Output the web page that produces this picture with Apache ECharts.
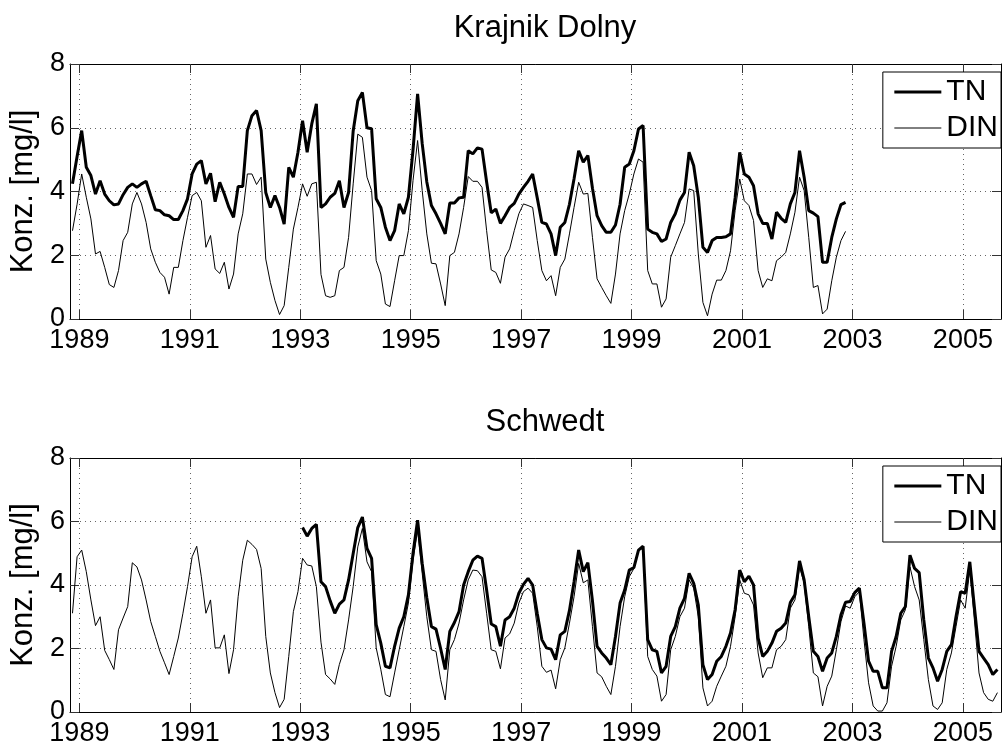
<!DOCTYPE html>
<html>
<head>
<meta charset="utf-8">
<script src="https://cdn.jsdelivr.net/npm/echarts@6/dist/echarts.min.js"></script>
<style>
  html, body { margin: 0; padding: 0; background: #fff; }
  #main { width: 1002px; height: 747px; }
</style>
</head>
<body>
<div id="main"></div>
<script>
// monthly samples, index 0 = Nov 1988 (plotted at mid-month)
var yearTicks = [1989, 1991, 1993, 1995, 1997, 1999, 2001, 2003, 2005];
var concTicks = [0, 2, 4, 6, 8];

// Krajnik Dolny, Nov 1988 .. Nov 2002
var krajnikTN = [
  4.24, 5.1, 5.91, 4.76, 4.5, 3.92, 4.34, 3.92, 3.71, 3.58,
  3.61, 3.9, 4.13, 4.24, 4.13, 4.24, 4.32, 3.87, 3.43, 3.4,
  3.27, 3.24, 3.12, 3.12, 3.4, 3.77, 4.55, 4.86, 4.97, 4.24,
  4.57, 3.68, 4.29, 3.92, 3.5, 3.19, 4.16, 4.16, 5.91, 6.38,
  6.54, 5.91, 3.97, 3.5, 3.87, 3.5, 2.98, 4.76, 4.45, 5.23,
  6.22, 5.23, 6.12, 6.75, 3.5, 3.61, 3.82, 3.94, 4.34, 3.5,
  3.97, 5.9, 6.85, 7.11, 6.0, 5.97, 3.77, 3.5, 2.88, 2.46,
  2.77, 3.61, 3.3, 3.82, 5.3, 7.06, 5.5, 4.3, 3.56, 3.3,
  3.0, 2.67, 3.64, 3.64, 3.8, 3.82, 5.28, 5.18, 5.37, 5.33,
  4.3, 3.33, 3.45, 3.0, 3.24, 3.5, 3.63, 3.92, 4.13, 4.32,
  4.55, 3.8, 3.03, 2.98, 2.67, 1.99, 2.88, 3.03, 3.6, 4.4,
  5.28, 4.92, 5.13, 4.1, 3.24, 2.93, 2.72, 2.72, 2.95, 3.6,
  4.76, 4.86, 5.28, 5.96, 6.07, 2.82, 2.72, 2.67, 2.43, 2.51,
  3.03, 3.3, 3.73, 3.97, 5.23, 4.81, 3.82, 2.25, 2.09, 2.46,
  2.56, 2.56, 2.58, 2.67, 3.8, 5.23, 4.55, 4.45, 4.18, 3.3,
  3.0, 3.0, 2.51, 3.35, 3.16, 3.03, 3.61, 3.97, 5.28, 4.45,
  3.4, 3.32, 3.21, 1.78, 1.78, 2.56, 3.14, 3.59, 3.66
];
var krajnikDIN = [
  2.77, 3.6, 4.55, 3.82, 3.14, 2.04, 2.12, 1.62, 1.08, 0.99,
  1.52, 2.46, 2.72, 3.61, 3.97, 3.61, 3.03, 2.2, 1.78, 1.46,
  1.31, 0.78, 1.62, 1.62, 2.46, 3.19, 3.87, 3.97, 3.71, 2.25,
  2.62, 1.57, 1.43, 1.78, 0.94, 1.41, 2.67, 3.3, 4.55, 4.55,
  4.22, 4.45, 1.88, 1.15, 0.58, 0.14, 0.42, 1.62, 2.82, 3.5,
  4.24, 3.85, 4.24, 4.29, 1.4, 0.73, 0.68, 0.73, 1.52, 1.62,
  2.56, 4.24, 5.8, 5.7, 4.45, 4.03, 1.83, 1.41, 0.47, 0.39,
  1.2, 1.99, 1.99, 2.77, 4.34, 5.6, 4.03, 2.67, 1.75, 1.73,
  1.1, 0.42, 1.99, 2.09, 2.67, 3.5, 4.47, 4.32, 4.32, 4.13,
  2.77, 1.54, 1.46, 1.12, 1.94, 2.2, 2.77, 3.3, 3.61, 3.56,
  3.5, 2.46, 1.52, 1.2, 1.36, 0.73, 1.62, 1.88, 2.67, 3.5,
  4.29, 3.92, 3.94, 2.56, 1.26, 0.99, 0.73, 0.49, 1.41, 2.67,
  3.4, 3.92, 4.55, 5.02, 4.92, 1.52, 1.1, 1.1, 0.37, 0.63,
  1.94, 2.3, 2.67, 3.03, 4.08, 4.03, 2.04, 0.52, 0.1, 0.78,
  1.22, 1.22, 1.52, 2.14, 3.4, 4.39, 3.71, 3.56, 3.09, 1.52,
  0.99, 1.26, 1.2, 1.83, 1.94, 2.09, 2.67, 3.35, 4.45, 4.03,
  2.56, 0.99, 1.05, 0.16, 0.31, 1.2, 1.94, 2.46, 2.75
];

// Schwedt: DIN from Nov 1988, TN from Jan 1993 (index 50), both to Jul 2005
var schwedtTNStart = 50;
var schwedtTN = [
  5.81, 5.54, 5.78, 5.91, 4.1, 3.95, 3.5, 3.11, 3.4, 3.53,
  4.16, 4.99, 5.81, 6.14, 5.15, 4.84, 2.75, 2.17, 1.44, 1.39,
  2.07, 2.64, 3.0, 3.69, 4.99, 6.04, 4.68, 3.6, 2.69, 2.61,
  2.0, 1.34, 2.54, 2.82, 3.16, 4.0, 4.42, 4.78, 4.91, 4.84,
  3.84, 2.77, 2.69, 2.07, 2.9, 3.0, 3.27, 3.74, 4.02, 4.21,
  4.0, 3.1, 2.28, 2.02, 1.98, 1.65, 2.43, 2.54, 3.2, 4.1,
  5.1, 4.42, 4.7, 3.5, 2.07, 1.86, 1.7, 1.49, 2.38, 3.43,
  3.84, 4.47, 4.55, 5.1, 5.22, 2.28, 1.96, 1.91, 1.23, 1.44,
  2.38, 2.69, 3.27, 3.58, 4.37, 4.05, 3.37, 1.49, 1.02, 1.18,
  1.6, 1.75, 2.07, 2.49, 3.22, 4.47, 4.1, 4.28, 4.0, 2.33,
  1.75, 1.91, 2.17, 2.54, 2.64, 2.8, 3.45, 3.69, 4.76, 4.16,
  3.0, 1.91, 1.75, 1.28, 1.7, 1.86, 2.38, 3.06, 3.46, 3.48,
  3.76, 3.9, 2.8, 1.6, 1.28, 1.28, 0.76, 0.76, 1.91, 2.38,
  3.11, 3.32, 4.94, 4.52, 4.39, 2.9, 1.7, 1.39, 0.97, 1.34,
  1.91, 2.12, 3.0, 3.79, 3.74, 4.73, 3.3, 1.91, 1.7, 1.49,
  1.18, 1.34
];
var schwedtDIN = [
  3.11, 4.89, 5.1, 4.42, 3.53, 2.72, 3.0, 1.94, 1.65, 1.34,
  2.59, 2.96, 3.32, 4.7, 4.57, 4.16, 3.53, 2.85, 2.38, 1.91,
  1.55, 1.18, 1.75, 2.33, 3.11, 3.95, 4.89, 5.22, 4.26, 3.11,
  3.53, 2.02, 2.02, 2.43, 1.21, 1.96, 3.63, 4.78, 5.41, 5.28,
  5.12, 4.52, 2.38, 1.23, 0.61, 0.14, 0.4, 1.75, 3.16, 3.79,
  4.84, 4.63, 4.6, 3.95, 2.2, 1.18, 1.04, 0.87, 1.5, 1.96,
  2.9, 3.95, 5.2, 5.78, 4.73, 4.42, 2.02, 1.34, 0.55, 0.48,
  1.23, 1.96, 2.69, 3.43, 4.78, 5.72, 4.37, 3.0, 1.96, 1.91,
  1.02, 0.38, 1.96, 2.28, 2.8, 3.53, 4.16, 4.47, 4.45, 4.26,
  3.11, 1.96, 1.91, 1.36, 2.33, 2.46, 2.8, 3.43, 3.79, 3.9,
  3.74, 2.69, 1.44, 1.25, 1.32, 0.73, 1.65, 2.02, 2.8, 3.63,
  4.68, 4.07, 4.16, 2.69, 1.23, 1.11, 0.81, 0.55, 1.44, 2.69,
  3.63, 4.26, 4.52, 5.1, 5.2, 1.75, 1.34, 1.13, 0.34, 0.55,
  1.96, 2.38, 3.0, 3.27, 4.16, 3.9, 3.0, 0.76, 0.19, 0.34,
  0.81, 1.13, 1.44, 2.07, 3.0, 4.16, 3.74, 3.69, 3.37, 1.86,
  1.08, 1.39, 1.39, 1.96, 2.07, 2.28, 3.27, 3.53, 4.57, 4.05,
  2.69, 1.23, 1.11, 0.19, 0.81, 1.13, 1.96, 2.85, 3.34, 3.27,
  3.63, 3.79, 2.28, 0.92, 0.19, 0.03, 0.03, 0.29, 1.44, 2.07,
  2.9, 3.22, 4.57, 3.95, 3.53, 2.28, 1.02, 0.19, 0.08, 0.29,
  1.34, 1.86, 2.69, 3.53, 3.27, 4.47, 2.9, 1.23, 0.61, 0.4,
  0.34, 0.61
];

// decimal year of the k-th month after Nov 1988, at mid-month
function toPoints(values, start) {
  return values.map(function (v, i) {
    return [1988 + (10 + start + i + 0.5) / 12, v];
  });
}

var font = 'Liberation Sans, Arial, Helvetica, sans-serif';
var chart = echarts.init(document.getElementById('main'), null, { renderer: 'canvas' });

function xAxisFor(grid, pos) {
  return {
    type: 'value', gridIndex: grid, position: pos,
    min: 1988.83, max: 2005.69,
    axisLine: { show: true, onZero: false, lineStyle: { color: '#000', width: 1 } },
    axisTick: { show: true, inside: true, length: 9, customValues: yearTicks, lineStyle: { color: '#333' } },
    axisLabel: {
      show: pos === 'bottom', customValues: yearTicks, margin: 8,
      color: '#000', fontSize: 27, fontFamily: font,
      formatter: function (v) { return String(v); }
    },
    splitLine: {
      show: pos === 'bottom',
      lineStyle: { color: '#666', type: [1, 4], width: 1 }
    }
  };
}
function yAxisFor(grid, pos) {
  return {
    type: 'value', gridIndex: grid, position: pos,
    min: 0, max: 8, interval: 2,
    name: pos === 'left' ? 'Konz. [mg/l]' : '',
    nameLocation: 'middle', nameGap: 25,
    nameTextStyle: { color: '#000', fontSize: 31, fontFamily: font },
    axisLine: { show: true, lineStyle: { color: '#000', width: 1 } },
    axisTick: { show: true, inside: true, length: 9, lineStyle: { color: '#333' } },
    axisLabel: {
      show: pos === 'left', margin: 5,
      color: '#000', fontSize: 27, fontFamily: font
    },
    splitLine: {
      show: pos === 'left',
      lineStyle: { color: '#666', type: [1, 4], width: 1 }
    }
  };
}
function lineSeries(name, data, xi, yi, width) {
  return {
    name: name, type: 'line', xAxisIndex: xi, yAxisIndex: yi,
    data: data, symbol: 'none', showSymbol: false,
    lineStyle: { color: '#000', width: width },
    itemStyle: { color: '#000' },
    emphasis: { disabled: true }
  };
}
function legendAt(top) {
  return {
    show: true, orient: 'vertical', right: 1, top: top,
    data: [
      { name: 'TN', lineStyle: { width: 3, color: '#000' } },
      { name: 'DIN', lineStyle: { width: 1, color: '#000' } }
    ],
    selectedMode: false,
    itemWidth: 47, itemHeight: 14, itemGap: 6,
    padding: [5, 3, 5, 10],
    itemStyle: { opacity: 0 },
    backgroundColor: '#fff', borderColor: '#000', borderWidth: 1, borderRadius: 0,
    textStyle: { color: '#000', fontSize: 30, fontFamily: font }
  };
}

var option = {
  animation: false,
  backgroundColor: '#fff',
  title: [
    { text: 'Krajnik Dolny', left: 540, top: 8, textAlign: 'center',
      textStyle: { color: '#000', fontSize: 31, fontWeight: 'normal', fontFamily: font } },
    { text: 'Schwedt', left: 540, top: 402, textAlign: 'center',
      textStyle: { color: '#000', fontSize: 31, fontWeight: 'normal', fontFamily: font } }
  ],
  legend: [legendAt(72), legendAt(466)],
  grid: [
    { left: 70, top: 64, width: 931, height: 255 },
    { left: 70, top: 458, width: 931, height: 255 }
  ],
  xAxis: [xAxisFor(0, 'bottom'), xAxisFor(0, 'top'), xAxisFor(1, 'bottom'), xAxisFor(1, 'top')],
  yAxis: [yAxisFor(0, 'left'), yAxisFor(0, 'right'), yAxisFor(1, 'left'), yAxisFor(1, 'right')],
  series: [
    lineSeries('TN', toPoints(krajnikTN, 0), 0, 0, 3),
    lineSeries('DIN', toPoints(krajnikDIN, 0), 0, 0, 1),
    lineSeries('TN', toPoints(schwedtTN, schwedtTNStart), 2, 2, 3),
    lineSeries('DIN', toPoints(schwedtDIN, 0), 2, 2, 1)
  ]
};
chart.setOption(option);
window.addEventListener('resize', function () { chart.resize(); });
</script>
</body>
</html>
